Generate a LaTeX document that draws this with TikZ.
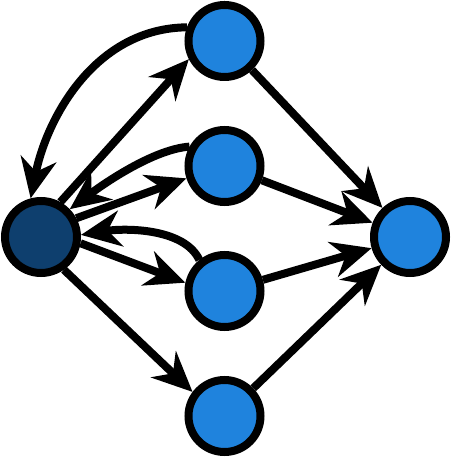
\documentclass[tikz,border=0pt]{standalone}
\usetikzlibrary{arrows.meta}
\definecolor{darkblue}{HTML}{0E3F6E}
\definecolor{lightblue}{HTML}{1F83DD}
\begin{document}
\begin{tikzpicture}[x=1pt,y=1pt,
  unit/.style={circle,draw=black,line width=8pt,minimum size=72pt,inner sep=0pt},
  src/.style={unit,fill=darkblue},
  hid/.style={unit,fill=lightblue},
  conn/.style={line width=8pt,-{Stealth[length=40pt,width=36pt,inset=13pt]}}]
\useasboundingbox (0,0) rectangle (451,457);
\node[src] (L) at (41,220) {};
\node[hid] (T) at (224.5,416) {};
\node[hid] (A) at (224.5,291) {};
\node[hid] (B) at (224.5,166) {};
\node[hid] (C) at (224.5,41) {};
\node[hid] (R) at (410,220) {};
\draw[conn] (L.61) -- (T.207);
\draw[conn] (L.28) -- (A.198);
\draw[conn] (L.-9) -- (B.168);
\draw[conn] (L.-55) -- (C.143);
\draw[conn] (T.160) .. controls +(-92,-1) and +(16,80) .. (L.105);
\draw[conn] (A.151) .. controls +(-40,-3) and +(24,18) .. (L.44);
\draw[conn] (B.129) .. controls +(-15,32) and +(44,7) .. (L.3);
\draw[conn] (T) -- (R);
\draw[conn] (A) -- (R);
\draw[conn] (B) -- (R);
\draw[conn] (C) -- (R);
\end{tikzpicture}
\end{document}
